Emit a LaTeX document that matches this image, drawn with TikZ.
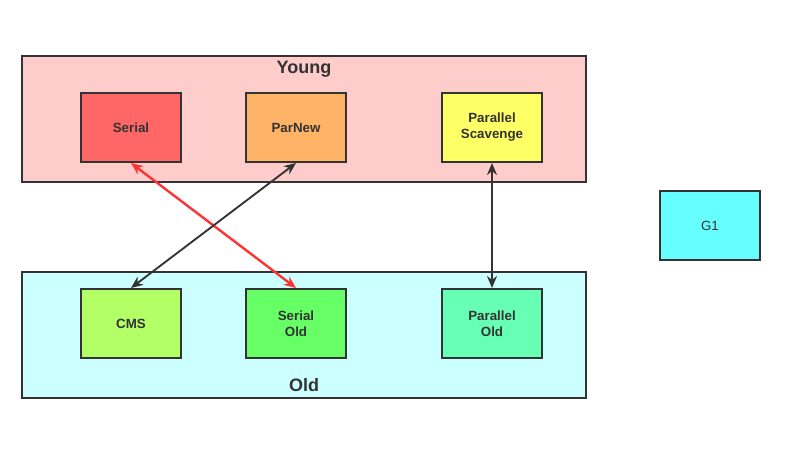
\documentclass[tikz,border=0pt]{standalone}
\usepackage{fontspec}
\setmainfont{Liberation Sans}
\usetikzlibrary{arrows.meta,positioning}

\definecolor{edge}{HTML}{333333}
\definecolor{youngfill}{HTML}{FFCCCC}
\definecolor{oldfill}{HTML}{CCFFFF}
\definecolor{redline}{HTML}{FF3333}

\begin{document}
\begin{tikzpicture}[x=0.75pt, y=-0.75pt,
    gen/.style={draw=edge, line width=1.5pt, minimum width=423pt, minimum height=94.5pt},
    gc/.style={draw=edge, line width=1.5pt, minimum width=75pt, minimum height=51.75pt, align=center, font=\bfseries\fontsize{10}{12}\selectfont, text=edge},
    title/.style={font=\bfseries\fontsize{13.5}{15}\selectfont, text=edge},
    link/.style={{Stealth[length=9pt,width=7.5pt]}-{Stealth[length=9pt,width=7.5pt]}, line width=1.4pt, draw=edge}]
    \useasboundingbox (0,0) rectangle (788,453);

    % generations
    \node[gen, fill=youngfill] (young) at (304,119) {};
    \node[gen, fill=oldfill] (old) at (304,335) {};
    \node[title] (younglabel) at (304,69) {Young};
    \node[title] (oldlabel) at (304,385) {Old};

    % collectors
    \node[gc, fill={rgb,255:red,255;green,102;blue,102}] (serial) at (131,127.5) {Serial};
    \node[gc, fill={rgb,255:red,255;green,179;blue,102}] (parnew) at (296,127.5) {ParNew};
    \node[gc, fill={rgb,255:red,255;green,255;blue,102}] (scavenge) at (492,127.5) {Parallel\\Scavenge};
    \node[gc, fill={rgb,255:red,179;green,255;blue,102}] (cms) at (131,323.5) {CMS};
    \node[gc, fill={rgb,255:red,102;green,255;blue,102}] (serialold) at (296,323.5) {Serial\\Old};
    \node[gc, fill={rgb,255:red,102;green,255;blue,179}] (parold) at (492,323.5) {Parallel\\Old};
    \node[gc, fill={rgb,255:red,102;green,255;blue,255}, font=\fontsize{10}{12}\selectfont] (g1) at (710,225.5) {G1};

    \draw[link, draw=redline, line width=1.8pt] (serial.south) -- (serialold.north);
    \draw[link] (parnew.south) -- (cms.north);
    \draw[link] (scavenge.south) -- (parold.north);
\end{tikzpicture}
\end{document}
